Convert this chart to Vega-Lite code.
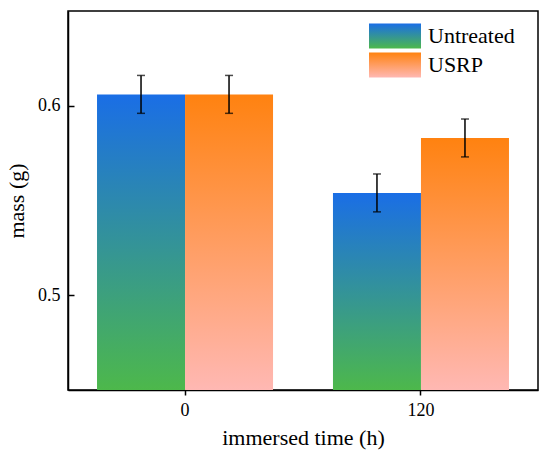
{
  "$schema": "https://vega.github.io/schema/vega-lite/v6.json",
  "width": 470,
  "height": 379,
  "autosize": {"type": "none"},
  "padding": {"left": 68, "top": 11, "right": 12, "bottom": 68},
  "background": "white",
  "config": {
    "font": "Liberation Serif",
    "view": {"stroke": "black", "strokeWidth": 1.5},
    "axis": {
      "domainColor": "black",
      "domainWidth": 1.5,
      "tickColor": "black",
      "tickWidth": 1.5,
      "grid": false
    }
  },
  "data": {
    "values": [
      {"time": "0", "group": "Untreated", "mass": 0.606, "lo": 0.596, "hi": 0.616},
      {"time": "0", "group": "USRP", "mass": 0.606, "lo": 0.596, "hi": 0.616},
      {"time": "120", "group": "Untreated", "mass": 0.554, "lo": 0.544, "hi": 0.564},
      {"time": "120", "group": "USRP", "mass": 0.583, "lo": 0.573, "hi": 0.593}
    ]
  },
  "encoding": {
    "x": {
      "field": "time",
      "type": "nominal",
      "sort": ["0", "120"],
      "scale": {"paddingInner": 0.254, "paddingOuter": 0.123},
      "axis": {
        "title": "immersed time (h)", "labelAngle": 0, "tickSize": 5, "labelPadding": 6, "titlePadding": 8,
        "labelFont": "Liberation Serif", "labelFontSize": 18, "labelColor": "black",
        "titleFont": "Liberation Serif", "titleFontSize": 22, "titleFontWeight": "normal", "titleColor": "black"
      }
    },
    "xOffset": {
      "field": "group",
      "type": "nominal",
      "sort": ["Untreated", "USRP"],
      "scale": {"paddingInner": 0, "paddingOuter": 0}
    }
  },
  "layer": [
    {
      "mark": {"type": "bar", "clip": true, "strokeWidth": 0},
      "encoding": {
        "y": {
          "field": "mass",
          "type": "quantitative",
          "scale": {"domain": [0.45, 0.65], "nice": false, "zero": false},
          "axis": {
            "title": "mass (g)", "values": [0.5, 0.6], "format": ".1f", "tickSize": -6, "labelPadding": 14, "titlePadding": 9,
            "labelFont": "Liberation Serif", "labelFontSize": 18, "labelColor": "black",
            "titleFont": "Liberation Serif", "titleFontSize": 22, "titleFontWeight": "normal", "titleColor": "black"
          }
        },
        "y2": {"datum": 0.45},
        "color": {
          "field": "group",
          "type": "nominal",
          "sort": ["Untreated", "USRP"],
          "scale": {
            "domain": ["Untreated", "USRP"],
            "range": [
              {"expr": "{gradient: 'linear', x1: 0, y1: 0, x2: 0, y2: 1, stops: [{offset: 0, color: '#1a6ee6'}, {offset: 1, color: '#4db84b'}]}"},
              {"expr": "{gradient: 'linear', x1: 0, y1: 0, x2: 0, y2: 1, stops: [{offset: 0, color: '#ff8210'}, {offset: 1, color: '#ffb8b3'}]}"}
            ]
          },
          "legend": {
            "title": null,
            "orient": "none",
            "legendX": 314,
            "legendY": 12,
            "symbolType": "M-2,-0.96H2V0.96H-2Z",
            "symbolSize": 676,
            "symbolStrokeWidth": 0,
            "symbolOpacity": 1,
            "labelOffset": 20,
            "labelFont": "Liberation Serif",
            "labelFontSize": 22,
            "labelColor": "black",
            "rowPadding": 3
          }
        }
      }
    },
    {
      "mark": {"type": "rule", "color": "black", "strokeWidth": 1.5},
      "encoding": {
        "y": {"field": "lo", "type": "quantitative"},
        "y2": {"field": "hi"}
      }
    },
    {
      "mark": {"type": "tick", "color": "black", "thickness": 1.5, "size": 8, "orient": "horizontal"},
      "encoding": {"y": {"field": "lo", "type": "quantitative"}}
    },
    {
      "mark": {"type": "tick", "color": "black", "thickness": 1.5, "size": 8, "orient": "horizontal"},
      "encoding": {"y": {"field": "hi", "type": "quantitative"}}
    }
  ]
}
